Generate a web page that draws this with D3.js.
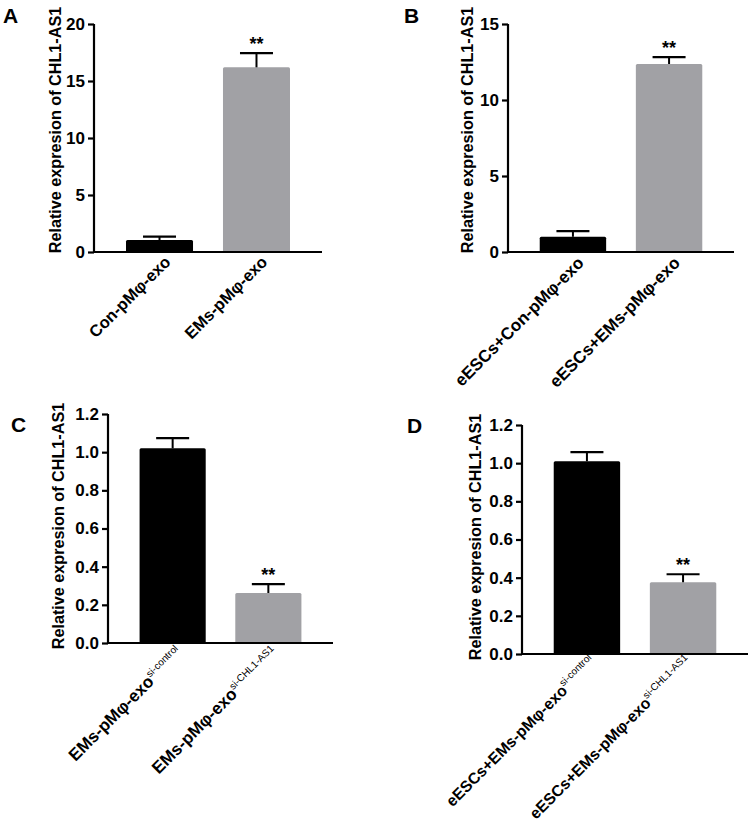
<!DOCTYPE html>
<html><head><meta charset="utf-8">
<script src="https://cdn.jsdelivr.net/npm/d3@7/dist/d3.min.js"></script>
<style>
body{margin:0;background:#fff;}
svg text{font-family:Arial,"Liberation Sans",Helvetica,sans-serif;}
</style></head>
<body><svg id="chart" width="750" height="825"></svg>
<script>
// ---- data ----
const panelLabels = ["A", "B", "C", "D"];
const yTitle = "Relative expresion of CHL1-AS1";
const categoriesA = ["Con-pMφ-exo", "EMs-pMφ-exo"];
const superscriptsA = ["", ""];
const valuesA = [1.05, 16.2];
const errorsA = [0.3, 1.25];
const ticksA = [0, 5, 10, 15, 20];
const categoriesB = ["eESCs+Con-pMφ-exo", "eESCs+EMs-pMφ-exo"];
const superscriptsB = ["", ""];
const valuesB = [1.0, 12.37];
const errorsB = [0.37, 0.45];
const ticksB = [0, 5, 10, 15];
const categoriesC = ["EMs-pMφ-exo", "EMs-pMφ-exo"];
const superscriptsC = ["si-control", "si-CHL1-AS1"];
const valuesC = [1.02, 0.262];
const errorsC = [0.054, 0.046];
const ticksC = [0, 0.2, 0.4, 0.6, 0.8, 1.0, 1.2];
const categoriesD = ["eESCs+EMs-pMφ-exo", "eESCs+EMs-pMφ-exo"];
const superscriptsD = ["si-control", "si-CHL1-AS1"];
const valuesD = [1.01, 0.376];
const errorsD = [0.048, 0.042];
const ticksD = [0, 0.2, 0.4, 0.6, 0.8, 1.0, 1.2];
const significance = ["", "**"];
const barColors = ["#000000", "#a1a1a5"];

const svg = d3.select("#chart");

const panels = [
  {label: panelLabels[0], cats: categoriesA, sups: superscriptsA, vals: valuesA, errs: errorsA, ticks: ticksA, fmt: d3.format("d"),
   x0: 94, x1: 322, yTop: 24, yBot: 252, lab: [3, 23], title: [55, 130], lf: 16.5, lo: [12, 11]},
  {label: panelLabels[1], cats: categoriesB, sups: superscriptsB, vals: valuesB, errs: errorsB, ticks: ticksB, fmt: d3.format("d"),
   x0: 508, x1: 734, yTop: 24, yBot: 252, lab: [404, 23], title: [467, 130], lf: 17, lo: [12, 12]},
  {label: panelLabels[2], cats: categoriesC, sups: superscriptsC, vals: valuesC, errs: errorsC, ticks: ticksC, fmt: d3.format(".1f"),
   x0: 108, x1: 333, yTop: 414, yBot: 643, lab: [11, 432], title: [58, 526], lf: 17, lo: [11, 11]},
  {label: panelLabels[3], cats: categoriesD, sups: superscriptsD, vals: valuesD, errs: errorsD, ticks: ticksD, fmt: d3.format(".1f"),
   x0: 522, x1: 748, yTop: 425, yBot: 654, lab: [407, 433], title: [475, 537], lf: 15.8, lo: [10, 9]}
];

panels.forEach(p => {
  const g = svg.append("g");
  const idx = p.cats.map((c, i) => i);
  const x = d3.scaleBand().domain(idx).range([p.x0, p.x1]).paddingInner(0.309).paddingOuter(0.33);
  const y = d3.scaleLinear().domain([0, d3.max(p.ticks)]).range([p.yBot, p.yTop]);

  // bars
  g.selectAll("rect.bar").data(idx).join("rect")
    .attr("x", i => x(i)).attr("width", x.bandwidth())
    .attr("y", i => y(p.vals[i])).attr("height", i => y(0) - y(p.vals[i]))
    .attr("rx", 1.5)
    .attr("fill", i => barColors[i]);

  // error bars (upper only)
  const cap = 33;
  idx.forEach(i => {
    const cx = x(i) + x.bandwidth() / 2;
    g.append("line").attr("x1", cx).attr("x2", cx)
      .attr("y1", y(p.vals[i])).attr("y2", y(p.vals[i] + p.errs[i]))
      .attr("stroke", "#000").attr("stroke-width", 2);
    g.append("line").attr("x1", cx - cap / 2).attr("x2", cx + cap / 2)
      .attr("y1", y(p.vals[i] + p.errs[i])).attr("y2", y(p.vals[i] + p.errs[i]))
      .attr("stroke", "#000").attr("stroke-width", 2.2);
    if (significance[i]) {
      g.append("text").attr("x", cx).attr("y", y(p.vals[i] + p.errs[i]) - 3)
        .attr("text-anchor", "middle").attr("font-size", 18).attr("font-weight", "bold")
        .text(significance[i]);
    }
  });

  // y axis
  const ya = g.append("g").attr("transform", `translate(${p.x0},0)`)
    .call(d3.axisLeft(y).tickValues(p.ticks).tickFormat(p.fmt).tickSize(6).tickPadding(3));
  ya.select(".domain").attr("stroke-width", 2.2).attr("d", `M0,${p.yTop}V${p.yBot}`);
  ya.selectAll(".tick line").attr("stroke-width", 2.2);
  ya.selectAll(".tick text").attr("font-size", 17).attr("font-weight", "bold")
    .attr("font-family", "Arial, 'Liberation Sans', sans-serif").attr("fill", "#000");

  // x axis line
  g.append("line").attr("x1", p.x0 - 1).attr("x2", p.x1).attr("y1", p.yBot).attr("y2", p.yBot)
    .attr("stroke", "#000").attr("stroke-width", 2.2);

  // x labels
  idx.forEach(i => {
    const cx = x(i) + x.bandwidth() / 2;
    const t = g.append("text")
      .attr("transform", `translate(${cx + p.lo[0]},${p.yBot + p.lo[1]}) rotate(-45)`)
      .attr("text-anchor", "end").attr("font-size", p.lf).attr("font-weight", "bold");
    t.append("tspan").text(p.cats[i]);
    if (p.sups[i]) {
      t.append("tspan").attr("dy", -7).attr("font-size", 10).attr("font-weight", "normal").text(p.sups[i]);
    }
  });

  // y title
  g.append("text").attr("transform", `translate(${p.title[0]},${p.title[1]}) rotate(-90)`)
    .attr("text-anchor", "middle").attr("dy", "0.35em")
    .attr("font-size", 16.2).attr("font-weight", "bold").text(yTitle);

  // panel label
  g.append("text").attr("x", p.lab[0]).attr("y", p.lab[1])
    .attr("font-size", 21).attr("font-weight", "bold").text(p.label);
});
</script></body></html>
